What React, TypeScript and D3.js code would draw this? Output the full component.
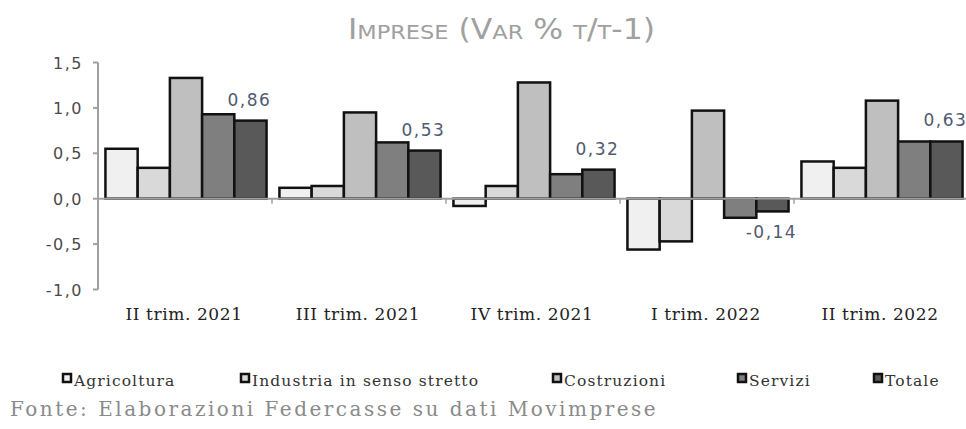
import React from "react";
import * as d3 from "d3";

const categories = ["II trim. 2021", "III trim. 2021", "IV trim. 2021", "I trim. 2022", "II trim. 2022"];
const seriesNames = ["Agricoltura", "Industria in senso stretto", "Costruzioni", "Servizi", "Totale"];
const agricoltura = [0.55, 0.12, -0.08, -0.56, 0.41];
const industria = [0.34, 0.14, 0.14, -0.47, 0.34];
const costruzioni = [1.33, 0.95, 1.28, 0.97, 1.08];
const servizi = [0.93, 0.62, 0.27, -0.21, 0.63];
const totale = [0.86, 0.53, 0.32, -0.14, 0.63];
const yTicks = [1.5, 1.0, 0.5, 0.0, -0.5, -1.0];
const colors = ["#f0f0f0", "#d9d9d9", "#bfbfbf", "#7f7f7f", "#595959"];
const legendX = [62, 240, 552, 737, 873];

const seriesValues = [agricoltura, industria, costruzioni, servizi, totale];

const W = 966;
const H = 429;

export default function App() {
  const y = d3.scaleLinear().domain([-1, 1.5]).range([289.5, 62.5]);
  const x0 = d3.scaleBand<string>().domain(categories).range([98, 98 + 5 * 174]).padding(0);
  const x1 = d3
    .scaleBand<string>()
    .domain(seriesNames)
    .range([0, x0.bandwidth()])
    .paddingInner(0)
    .paddingOuter(0.2);
  const fix = (s: string) => s.replace("\u2212", "-").replace(".", ",");
  const fmt = (v: number) => fix(d3.format(".2f")(v));
  const fmtTick = (v: number) => fix(d3.format(".1f")(v));
  const y0 = y(0);

  return (
    <svg
      width={W}
      height={H}
      style={{ position: "absolute", left: 0, top: 0, background: "#fff" }}
    >
      <text
        x={348}
        y={39}
        fontFamily="DejaVu Sans"
        fontSize={28}
        fill="#a0a0a0"
        style={{ fontVariant: "small-caps" }}
        textLength={307}
        lengthAdjust="spacingAndGlyphs"
      >
        Imprese (Var % t/t-1)
      </text>

      {/* y axis */}
      <line x1={98} x2={98} y1={y(1.5)} y2={y(-1)} stroke="#a0a0a0" strokeWidth={2} />
      {yTicks.map((t) => (
        <g key={t}>
          <line x1={93} x2={98} y1={y(t)} y2={y(t)} stroke="#a0a0a0" strokeWidth={2} />
          <text
            x={83}
            y={y(t) + 6}
            textAnchor="end"
            fontFamily="DejaVu Sans"
            fontSize={16}
            letterSpacing={1.5}
            fill="#4a4a4a"
          >
            {fmtTick(t)}
          </text>
        </g>
      ))}

      {/* bars */}
      {categories.map((c, ci) => (
        <g key={c} transform={`translate(${x0(c)},0)`}>
          {seriesNames.map((s, si) => {
            const v = seriesValues[si][ci];
            const top = Math.min(y(v), y0);
            const h = Math.abs(y(v) - y0);
            return (
              <rect
                key={s}
                x={x1(s)! + 1}
                y={top}
                width={x1.bandwidth()}
                height={h}
                fill={colors[si]}
                stroke="#111"
                strokeWidth={2.5}
              />
            );
          })}
        </g>
      ))}

      {/* zero axis */}
      <line x1={98} x2={W} y1={y0} y2={y0} stroke="#a0a0a0" strokeWidth={2} />
      {categories.map((c) => (
        <line
          key={"t" + c}
          x1={x0(c)! + x0.bandwidth()}
          x2={x0(c)! + x0.bandwidth()}
          y1={y0}
          y2={y0 + 5}
          stroke="#a0a0a0"
          strokeWidth={1.5}
        />
      ))}

      {/* data labels for Totale */}
      {categories.map((c, ci) => {
        const v = totale[ci];
        const cx = x0(c)! + x1("Totale")! + x1.bandwidth() / 2;
        const ty = v >= 0 ? y(v) - 15 : y(v) + 27;
        return (
          <text
            key={"l" + c}
            x={cx}
            y={ty}
            textAnchor="middle"
            fontFamily="DejaVu Sans"
            fontSize={17}
            letterSpacing={1.5}
            fill="#505a70"
          >
            {fmt(v)}
          </text>
        );
      })}

      {/* category labels */}
      {categories.map((c) => (
        <text
          key={"c" + c}
          x={x0(c)! + x0.bandwidth() / 2 - 1}
          y={320}
          textAnchor="middle"
          fontFamily="DejaVu Serif"
          fontSize={17}
          letterSpacing={0.6}
          fill="#222"
        >
          {c}
        </text>
      ))}

      {/* legend */}
      {seriesNames.map((s, i) => (
        <g key={"lg" + s}>
          <rect x={legendX[i] + 1} y={374} width={8} height={8} fill={colors[i]} stroke="#111" strokeWidth={2.5} />
          <text
            x={legendX[i] + 12}
            y={386}
            fontFamily="DejaVu Serif"
            fontSize={15.5}
            letterSpacing={1.1}
            fill="#333"
          >
            {s}
          </text>
        </g>
      ))}

      <text
        x={10}
        y={416}
        fontFamily="DejaVu Serif"
        fontSize={20}
        fill="#8a8a8a"
        letterSpacing={2.5}
      >
        Fonte: Elaborazioni Federcasse su dati Movimprese
      </text>
    </svg>
  );
}
